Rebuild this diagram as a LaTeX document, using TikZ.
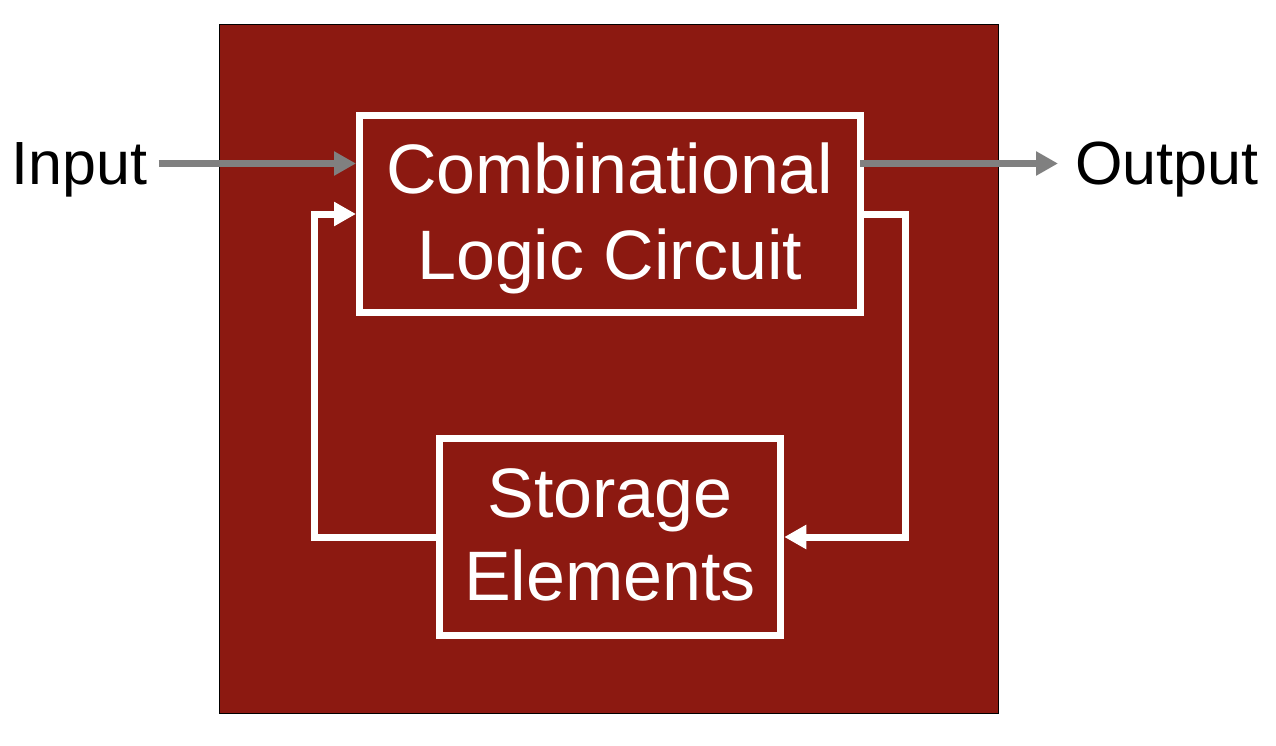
\documentclass[tikz,border=0pt]{standalone}
\usepackage{fontspec}
\setmainfont{Liberation Sans}
\usetikzlibrary{arrows.meta}
\definecolor{boxred}{RGB}{140,25,17}
\definecolor{arrowgray}{RGB}{128,128,128}
\tikzset{
  blockbox/.style={draw=white, line width=7pt, fill=boxred, text=white, inner sep=0pt,
    align=center, font=\fontsize{70}{86}\selectfont, line join=miter},
  lbl/.style={inner sep=0pt, text=black, font=\fontsize{61}{73}\selectfont, anchor=base west},
  garrow/.style={draw=arrowgray, line width=7pt, -{Triangle[length=22pt,width=23pt]}},
  warrow/.style={draw=white, line width=7pt, line join=miter, -{Triangle[length=22pt,width=23pt]}},
}
\begin{document}
\begin{tikzpicture}[x=1pt,y=-1pt]
\useasboundingbox (0,0) rectangle (1276,746);
\path[fill=boxred, draw=black, line width=1pt] (219,25) rectangle (998,713);
\node[blockbox, minimum width=500.5pt, minimum height=197pt] (comb) at (609.75,214) {\rule{0pt}{59pt}Combinational\\Logic Circuit};
\node[blockbox, minimum width=341.7pt, minimum height=197pt, font=\fontsize{70}{83}\selectfont] (store) at (609.9,537) {Storage\\Elements\rule[-5pt]{0pt}{5pt}};
\node[lbl] (input) at (11.5,185) {Input};
\node[lbl] (output) at (1075,185) {Output};
\draw[garrow, shorten <=11pt] ([yshift=50.5pt]comb.west -| input.east) -- ([yshift=50.5pt]comb.west);
\draw[garrow, shorten >=17pt] ([xshift=-3.5pt,yshift=50.5pt]comb.east) -- ([yshift=50.5pt]comb.east -| output.west);
\draw[warrow] (store.west) -- ++(-121.5,0) |- (comb.west);
\draw[warrow] (comb.east) -- ++(42,0) |- (store.east);
\end{tikzpicture}
\end{document}
